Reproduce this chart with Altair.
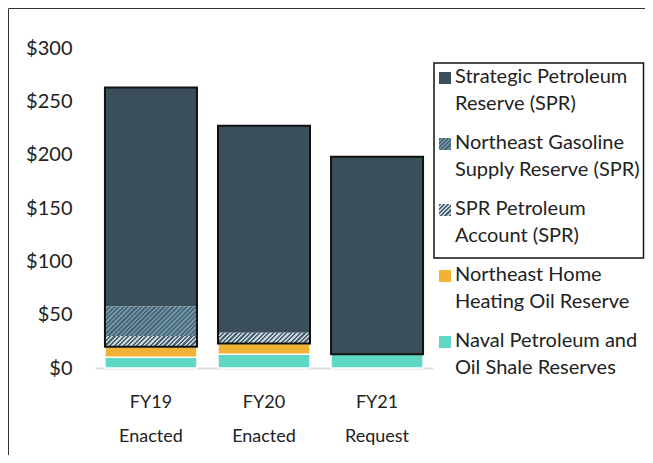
import math
import altair as alt
import pandas as pd

# ---- data (millions of dollars) ----
years = ["FY19 Enacted", "FY20 Enacted", "FY21 Request"]
naval = [10, 13, 13]          # Naval Petroleum and Oil Shale Reserves
nehhor = [10, 10, 0]          # Northeast Home Heating Oil Reserve
spr_pa = [10, 10, 0]          # SPR Petroleum Account (SPR)
ngsr = [28, 0, 0]             # Northeast Gasoline Supply Reserve (SPR)
spr = [205, 194, 185]         # Strategic Petroleum Reserve (SPR)

y_ticks = [0, 50, 100, 150, 200, 250, 300]

legend_labels = [
    "Strategic Petroleum\nReserve (SPR)",
    "Northeast Gasoline\nSupply Reserve (SPR)",
    "SPR Petroleum\nAccount (SPR)",
    "Northeast Home\nHeating Oil Reserve",
    "Naval Petroleum and\nOil Shale Reserves",
]

# ---- styling ----
FONT = "Lato"
C_SPR = "#3A4F5A"
C_NEH = "#F2B233"
C_NAV = "#5ED7C5"
NGSR_A, NGSR_B = "#4A6676", "#6F93A6"
SPRPA_A, SPRPA_B = "#4A6372", "#C9D4DA"

W, H = 338, 320
P_IN, P_OUT = 0.186, 0.088
step = W / (len(years) - P_IN + 2 * P_OUT)
bar_w = step * (1 - P_IN)
px_per_unit = H / 300


def hatch(w, h, c1, c2, period=3.2):
    # diagonal "/" stripes inside a w x h box (objectBoundingBox gradient)
    L = (w + h) / math.sqrt(2)
    stops = []
    k = 0
    while k * period < L:
        o0 = k * period / L
        o1 = min((k + 0.5) * period / L, 1)
        o2 = min((k + 1) * period / L, 1)
        stops += [
            {"offset": round(o0, 4), "color": c1},
            {"offset": round(o1, 4), "color": c1},
            {"offset": round(o1, 4), "color": c2},
            {"offset": round(o2, 4), "color": c2},
        ]
        k += 1
    s = (w + h) / (w * w + h * h)
    return {
        "gradient": "linear",
        "x1": 0, "y1": 0,
        "x2": round(w * s, 4),
        "y2": round(h * s, 4),
        "stops": stops,
    }


# ---- build stacked table ----
series_order = [
    ("Naval", naval),
    ("NEHHOR", nehhor),
    ("SPRPA", spr_pa),
    ("NGSR", ngsr),
    ("SPR", spr),
]
rows = []
for i, yr in enumerate(years):
    base = 0
    for name, vals in series_order:
        v = vals[i]
        if v > 0:
            rows.append({"year": yr, "series": name, "y0": base, "y1": base + v, "v": v})
        base += v
df = pd.DataFrame(rows)

outline = pd.DataFrame({
    "year": years,
    "y0": [naval[i] + nehhor[i] for i in range(len(years))],
    "y1": [naval[i] + nehhor[i] + spr_pa[i] + ngsr[i] + spr[i] for i in range(len(years))],
})

x_enc = alt.X(
    "year:N", sort=years,
    scale=alt.Scale(paddingInner=P_IN, paddingOuter=P_OUT),
    axis=alt.Axis(
        title=None, labelAngle=0, ticks=False,
        domainColor="#D6DCE4", domainWidth=2,
        labelExpr="split(datum.value, ' ')",
        labelFont=FONT, labelFontSize=18, labelColor="#222",
        labelLineHeight=34, labelPadding=25,
    ),
)
y_enc = alt.Y(
    "y0:Q",
    scale=alt.Scale(domain=[0, 300]),
    axis=alt.Axis(
        title=None, values=y_ticks, grid=False, domain=False, ticks=False,
        labelExpr="'$' + datum.value",
        labelFont=FONT, labelFontSize=20, labelColor="#222", labelPadding=23,
    ),
)
y2_enc = alt.Y2("y1:Q")

layers = []

# solid small segments (white separating stroke)
solid = alt.Chart(df).transform_filter(
    alt.FieldOneOfPredicate(field="series", oneOf=["Naval", "NEHHOR"])
).mark_bar(stroke="white", strokeWidth=1.5).encode(
    x=x_enc, y=y_enc, y2=y2_enc,
    fill=alt.Fill("series:N", scale=alt.Scale(domain=["Naval", "NEHHOR"], range=[C_NAV, C_NEH]), legend=None),
)
layers.append(solid)

# dark SPR segments
dark = alt.Chart(df).transform_filter(alt.datum.series == "SPR").mark_bar(fill=C_SPR).encode(
    x=x_enc, y=y_enc, y2=y2_enc
)
layers.append(dark)

# hatched segments, one layer each so the stripe geometry fits each rectangle
for r in rows:
    if r["series"] in ("NGSR", "SPRPA"):
        h = r["v"] * px_per_unit
        if r["series"] == "NGSR":
            grad = hatch(bar_w, h, NGSR_A, NGSR_B)
        else:
            grad = hatch(bar_w, h, SPRPA_A, SPRPA_B)
        seg = alt.Chart(pd.DataFrame([r])).mark_bar(fill=grad).encode(
            x=x_enc, y=y_enc, y2=y2_enc
        )
        layers.append(seg)

# black outline around SPR group
out = alt.Chart(outline).mark_bar(filled=False, stroke="#111", strokeWidth=2, fill="transparent").encode(
    x=x_enc, y=y_enc, y2=y2_enc
)
layers.append(out)

# ---- custom legend ----
LX_SW, LX_TX = 344, 360
L_Y0, L_DY = 30, 66
swatch_fills = [
    C_SPR,
    hatch(12, 12, NGSR_A, NGSR_B, period=3.0),
    hatch(12, 12, SPRPA_A, SPRPA_B, period=3.0),
    C_NEH,
    C_NAV,
]
for i, f in enumerate(swatch_fills):
    yc = L_Y0 + L_DY * i
    sw = alt.Chart(pd.DataFrame({"k": [i]})).mark_rect(fill=f).encode(
        x=alt.value(LX_SW), x2=alt.value(LX_SW + 12),
        y=alt.value(yc - 6), y2=alt.value(yc + 6),
    )
    layers.append(sw)

leg_df = pd.DataFrame({"label": legend_labels, "idx": list(range(len(legend_labels)))})
leg_text = alt.Chart(leg_df).transform_calculate(
    ly=f"{L_Y0 - 1} + {L_DY} * datum.idx"
).mark_text(
    align="left", baseline="middle", font=FONT, fontSize=20, color="#222",
    lineBreak="\n", lineHeight=27,
).encode(
    x=alt.value(LX_TX), y=alt.Y("ly:Q", scale=None), text="label:N"
)
layers.append(leg_text)

box = alt.Chart(pd.DataFrame({"k": [0]})).mark_rect(
    fill="transparent", stroke="#111", strokeWidth=1.5
).encode(
    x=alt.value(339), x2=alt.value(548.5), y=alt.value(15), y2=alt.value(210)
)
layers.append(box)

# outer frame (top and left edges)
frame_top = alt.Chart(pd.DataFrame({"k": [0]})).mark_rule(color="#333", strokeWidth=1).encode(
    x=alt.value(-86.5), x2=alt.value(600), y=alt.value(-39.5)
)
frame_left = alt.Chart(pd.DataFrame({"k": [0]})).mark_rule(color="#333", strokeWidth=1).encode(
    x=alt.value(-86.5), y=alt.value(-39.5), y2=alt.value(420)
)
layers += [frame_top, frame_left]

chart = alt.layer(*layers).properties(
    width=W, height=H,
    autosize=alt.AutoSizeParams(type="none"),
    padding={"left": 87, "top": 40, "right": 212, "bottom": 87},
    background="white",
).configure_view(stroke=None)

chart.save("out.html", embed_options={"renderer": "svg", "actions": False})
